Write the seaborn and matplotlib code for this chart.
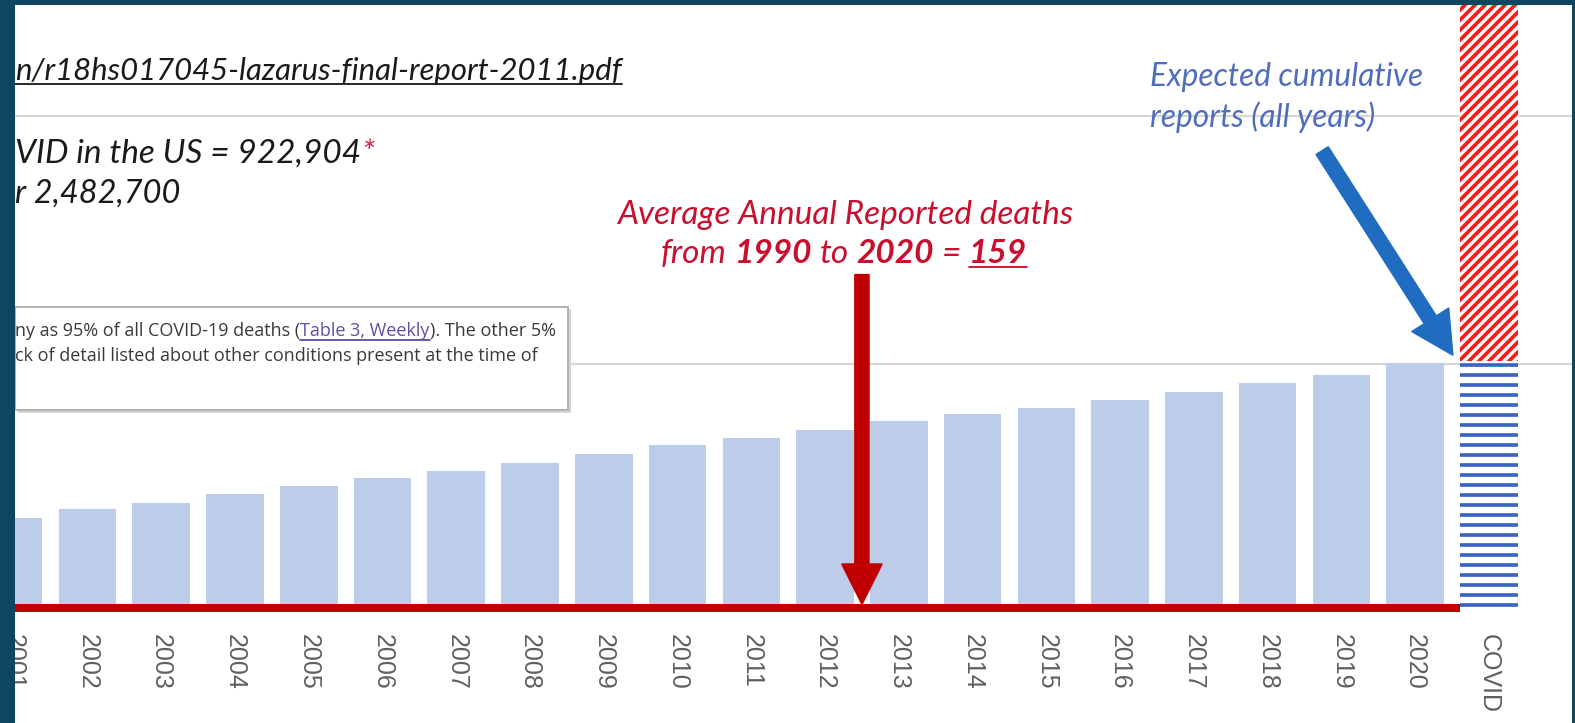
import matplotlib
matplotlib.use("Agg")
import matplotlib.pyplot as plt
from matplotlib.patches import Rectangle
from matplotlib.lines import Line2D
import pandas as pd
import seaborn as sns

# values (cumulative reports, axis gridlines every 5000)
years = ["2001", "2002", "2003", "2004", "2005", "2006", "2007", "2008", "2009", "2010",
         "2011", "2012", "2013", "2014", "2015", "2016", "2017", "2018", "2019", "2020"]
cumulative_reports = [1895, 2077, 2198, 2379, 2540, 2702, 2843, 3004, 3185, 3367,
                      3508, 3669, 3851, 3992, 4113, 4274, 4435, 4617, 4778, 5020]
covid_label = "COVID"
covid_expected = 5060
covid_reported = 922904
avg_annual = 159
grid_values = [5000, 10000]

W, H, DPI = 1575, 723, 120
dark = "#104560"
bar_blue = "#bdcde9"
red = "#c00000"
text_red = "#c8102e"
hatch_red = "#ff1a1a"
stripe_blue = "#3a62c4"
arrow_blue = "#1f6cc0"
label_blue = "#4f6dbb"

sns.set_theme(style="white")
plt.rcParams["hatch.linewidth"] = 2.2

fig = plt.figure(figsize=(W / DPI, H / DPI), dpi=DPI, facecolor="white")

# bar centres at 13.7px + 73.76px*index, baseline at y=612px, top of plot at 5px
x0, step = 13.7, 73.76
base_px, top_px = 612, 5
ax_left, ax_right = 12, 1572
ax = fig.add_axes([ax_left / W, 1 - base_px / H, (ax_right - ax_left) / W, (base_px - top_px) / H])


def fx(x):
    return x / W


def fy(y):
    return 1 - y / H


df = pd.DataFrame({"year": years + [covid_label],
                   "reports": cumulative_reports + [covid_expected]})
sns.barplot(data=df, x="year", y="reports", color=bar_blue, saturation=1,
            width=0.78, linewidth=0, errorbar=None, ax=ax, zorder=2)

covid_bar = ax.patches[-1]
covid_bar.set_facecolor("white")
covid_bar.set_edgecolor(stripe_blue)
covid_bar.set_linewidth(0)
covid_bar.set_hatch("--")

n = len(df) - 1
ax.bar(n, covid_reported - covid_expected, bottom=covid_expected, width=0.78,
       color="white", edgecolor=hatch_red, linewidth=0, hatch="////", zorder=2)

ax.set_xlim((ax_left - x0) / step, (ax_right - x0) / step)
ax.set_ylim(0, (base_px - top_px) / 248 * 5000)

# average annual reported deaths, drawn as a band up to the COVID bar
ax.fill_between([ax.get_xlim()[0], n - 0.39], 0, avg_annual, color=red, zorder=3, linewidth=0)

ax.set_yticks(grid_values)
ax.yaxis.grid(True, color="#d6d6d6", linewidth=1.3)
ax.set_axisbelow(True)
ax.tick_params(axis="y", left=False, labelleft=False)
ax.tick_params(axis="x", length=0, pad=13, labelsize=15, labelcolor="#5f5f5f", labelrotation=-90)
for lab in ax.get_xticklabels():
    lab.set_fontfamily("Liberation Sans")
ax.set_xlabel("")
ax.set_ylabel("")
for s in ax.spines.values():
    s.set_visible(False)

# arrows
ax.annotate("", xy=(11.5, avg_annual), xytext=(11.5, 6800),
            arrowprops=dict(arrowstyle="simple,head_length=2.4,head_width=2.4,tail_width=0.84",
                            color=red, mutation_scale=10, shrinkA=0, shrinkB=0), zorder=5)
ax.annotate("", xy=(19.51, 5181), xytext=(17.74, 9300),
            arrowprops=dict(arrowstyle="simple,head_length=2.5,head_width=2.6,tail_width=0.85",
                            color=arrow_blue, mutation_scale=10, shrinkA=0, shrinkB=0), zorder=5)

# text box (left part cut off by the slide crop)
fig.add_artist(Rectangle((fx(18), fy(413)), fx(553), 104 / H, facecolor="#d4d4d4",
                         edgecolor="none", transform=fig.transFigure, zorder=4))
fig.add_artist(Rectangle((fx(15), fy(410)), fx(553), 103 / H, facecolor="white",
                         edgecolor="#b3b3b3", linewidth=1.2, transform=fig.transFigure, zorder=4))

fig.canvas.draw()
renderer = fig.canvas.get_renderer()


def ink_width(s, **kw):
    t = fig.text(0, 0, s, **kw)
    w = t.get_window_extent(renderer).width
    t.remove()
    return w


def draw_run(run, x, y, center=False, **base):
    # run: list of (text, extra style, underline, space before)
    sp = ink_width("n n", **base) - ink_width("nn", **base)
    widths = [ink_width(s, **{**base, **extra}) for s, extra, _, _ in run]
    total = sum(widths) + sp * sum(1 for r in run[1:] if r[3])
    if center:
        x = x - total / 2
    for (s, extra, ul, gap), w in zip(run, widths):
        kw = {**base, **extra}
        if gap:
            x += sp
        fig.text(fx(x), fy(y), s, ha="left", va="baseline", zorder=6, **kw)
        if ul:
            fig.add_artist(Line2D([fx(x), fx(x + w)], [fy(y + 4), fy(y + 4)],
                                  color=kw["color"], linewidth=1.1, zorder=6))
        x += w


black_it = dict(family="Lato", style="italic", color="#1a1a1a")

draw_run([("n/r18hs017045-lazarus-final-report-2011.pdf", {}, True, False)],
         15, 80, fontsize=18.7, **black_it)
draw_run([("VID in the US = 922,904", {}, False, False),
          ("*", {"color": "#d6204a"}, False, False)],
         15, 163, fontsize=20, **black_it)
draw_run([("r 2,482,700", {}, False, False)], 15, 203, fontsize=19.5, **black_it)

red_it = dict(family="Lato", style="italic", fontsize=20, color=text_red)
draw_run([("Average Annual Reported deaths", {}, False, False)],
         845, 224, center=True, **red_it)
bold = {"weight": "bold"}
draw_run([("from", {}, False, False), ("1990", bold, False, True), ("to", {}, False, True),
          ("2020", bold, False, True), ("=", {}, False, True), ("159", bold, True, True)],
         844, 263, center=True, **red_it)

blue_it = dict(family="Lato", style="italic", fontsize=19, color=label_blue)
draw_run([("Expected cumulative", {}, False, False)], 1150, 86, **blue_it)
draw_run([("reports (all years)", {}, False, False)], 1150, 127, **blue_it)

box_font = dict(family="Open Sans", fontsize=10.8, color="#3a3a3a")
draw_run([("ny as 95% of all COVID-19 deaths (", {}, False, False),
          ("Table 3, Weekly", {"color": "#5b4fa6"}, True, False),
          ("). The other 5%", {}, False, False)], 15, 336, **box_font)
draw_run([("ck of detail listed about other conditions present at the time of", {}, False, False)],
         15, 361, **box_font)

# dark slide background around the cropped chart
for rect in [(0, 0, 15, H), (0, 0, W, 5), (1572, 0, 3, H)]:
    x, y, w, h = rect
    fig.add_artist(Rectangle((fx(x), fy(y + h)), w / W, h / H, facecolor=dark,
                             edgecolor="none", transform=fig.transFigure, zorder=100))

fig.savefig("out.png", dpi=DPI, facecolor="white")
